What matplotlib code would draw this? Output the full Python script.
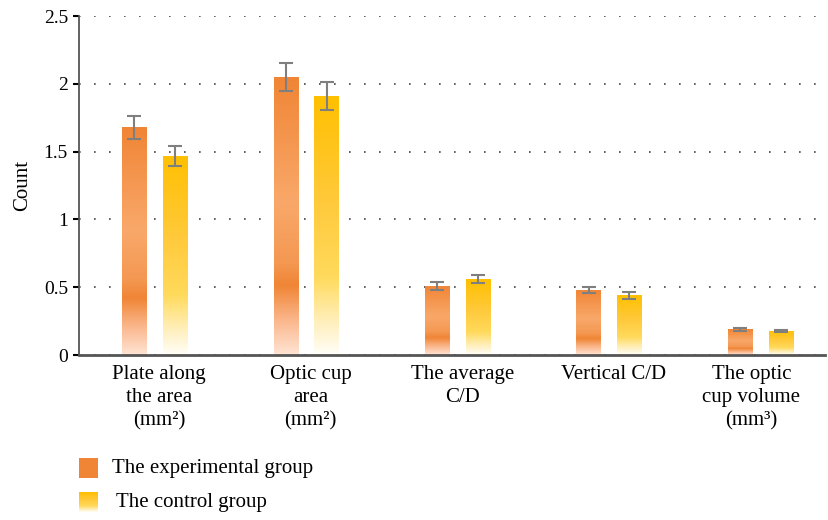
import numpy as np
import matplotlib
matplotlib.use('Agg')
import matplotlib.pyplot as plt
from matplotlib.colors import LinearSegmentedColormap

plt.rcParams['font.family'] = ['Liberation Serif', 'DejaVu Serif']

# data
categories = ['Plate along\nthe area\n(mm²)', 'Optic cup\narea\n(mm²)', 'The average\nC/D',
              'Vertical C/D', 'The optic\ncup volume\n(mm³)']
experimental = [1.68, 2.05, 0.51, 0.48, 0.19]
experimental_err = [0.085, 0.105, 0.03, 0.025, 0.01]
control = [1.47, 1.91, 0.56, 0.44, 0.18]
control_err = [0.075, 0.10, 0.03, 0.025, 0.008]
series_names = ['The experimental group', 'The control group']

# gradients (bottom -> top of each bar)
exp_cmap = LinearSegmentedColormap.from_list('exp', [
    (0.0, '#FFE4D4'), (0.12, '#FBB88E'), (0.25, '#F08535'), (0.33, '#F49852'),
    (0.55, '#F9A86A'), (1.0, '#F08535')])
ctl_cmap = LinearSegmentedColormap.from_list('ctl', [
    (0.0, '#FFFEF8'), (0.12, '#FFF0C0'), (0.3, '#FFDA5C'), (0.6, '#FFC93A'), (1.0, '#FFC000')])
grad = np.linspace(0, 1, 256).reshape(-1, 1)

fig = plt.figure(figsize=(8.29, 5.2), dpi=100)
ax = fig.add_axes([0.0953, 0.3173, 0.8997, 0.6519])

x = np.arange(len(categories))
width = 0.16
offset = 0.135


def gradient_bars(xs, vals, cmap):
    bars = ax.bar(xs, vals, width, facecolor='none', edgecolor='none', zorder=3)
    for b in bars:
        x0, y0 = b.get_x(), b.get_y()
        im = ax.imshow(grad, cmap=cmap, aspect='auto', origin='lower',
                       extent=[x0, x0 + b.get_width(), y0, y0 + b.get_height()], zorder=3)
        im.set_clip_path(b)
    return bars


gradient_bars(x - offset, experimental, exp_cmap)
gradient_bars(x + offset, control, ctl_cmap)
ax.errorbar(x - offset, experimental, yerr=experimental_err, fmt='none', ecolor='#7f7f7f',
            elinewidth=1.5, capsize=5, capthick=1.5, zorder=4)
ax.errorbar(x + offset, control, yerr=control_err, fmt='none', ecolor='#7f7f7f',
            elinewidth=1.5, capsize=5, capthick=1.5, zorder=4)

ax.set_xlim(-0.5, 4.425)
ax.set_ylim(0, 2.5)
ax.set_yticks([0, 0.5, 1, 1.5, 2, 2.5])
ax.set_yticklabels(['0', '0.5', '1', '1.5', '2', '2.5'], fontsize=14)
# label nudges: last label sits a bit left of its group
label_pos = x + np.array([0.03, 0.03, 0.03, 0.03, -0.06])
ax.set_xticks(label_pos)
ax.set_xticklabels(categories, fontsize=15, linespacing=1.3)
ax.tick_params(axis='x', length=0, pad=7)
ax.tick_params(axis='y', length=4, width=1.5, color='black', pad=4)
ax.set_ylabel('Count', fontsize=15, labelpad=8)
ax.yaxis.grid(True, linestyle=(0, (1, 8)), color='#444444', linewidth=1.2)
ax.set_axisbelow(True)
for s in ['top', 'right']:
    ax.spines[s].set_visible(False)
ax.spines['left'].set_color('#555555')
ax.spines['left'].set_linewidth(1.3)
ax.spines['bottom'].set_color('#555555')
ax.spines['bottom'].set_linewidth(2)
ax.spines['left'].set_zorder(5)
ax.spines['bottom'].set_zorder(5)

# legend drawn below in figure pixel space
lax = fig.add_axes([0, 0, 1, 1], zorder=-1)
lax.set_xlim(0, 829)
lax.set_ylim(520, 0)
lax.axis('off')
lax.imshow(grad[::-1] * 0 + 1, cmap=LinearSegmentedColormap.from_list('e', ['#F08535', '#F08535']),
           extent=[79, 98, 478, 458], aspect='auto')
lax.imshow(grad, cmap=ctl_cmap, extent=[79, 98, 512, 492], aspect='auto', origin='lower')
lax.text(112, 468, series_names[0], fontsize=15, va='center', ha='left')
lax.text(116, 502, series_names[1], fontsize=15, va='center', ha='left')

fig.savefig('out.png', dpi=100)
